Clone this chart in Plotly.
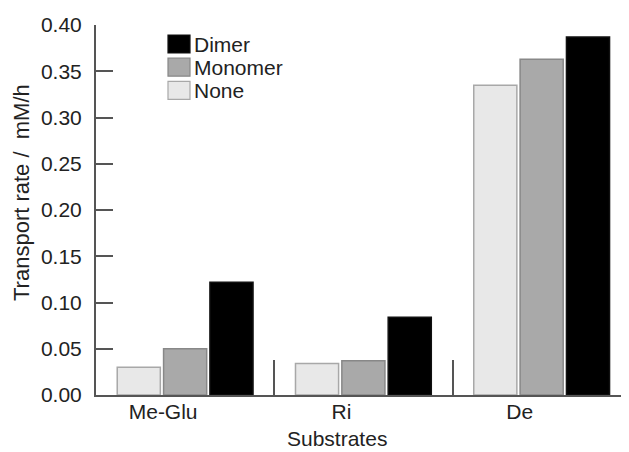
import plotly.graph_objects as go

categories = ["Me-Glu", "Ri", "De"]
series_names = ["None", "Monomer", "Dimer"]
none_vals = [0.030, 0.034, 0.335]
monomer_vals = [0.050, 0.037, 0.363]
dimer_vals = [0.122, 0.084, 0.387]
y_ticks = [0.00, 0.05, 0.10, 0.15, 0.20, 0.25, 0.30, 0.35, 0.40]

fills = {"None": "#e8e8e8", "Monomer": "#a9a9a9", "Dimer": "#000000"}
edges = {"None": "#a8a8a8", "Monomer": "#888888", "Dimer": "#111111"}
values = {"None": none_vals, "Monomer": monomer_vals, "Dimer": dimer_vals}

FONT = "Liberation Sans, Arial, Helvetica, sans-serif"
AX = "#555555"
TXT = "#222222"

# figure geometry (page body has an 8px margin)
W, H = 621, 444
L, R, T, B = 88, 0, 17, 57
PW, PH = W - L - R, H - T - B

def px(x):
    return (x - 8 - L) / PW

def py(y):
    return 1 - (y - 8 - T) / PH

fig = go.Figure()
for name in series_names:
    fig.add_trace(go.Bar(
        x=categories, y=values[name], name=name,
        marker=dict(color=fills[name], line=dict(color=edges[name], width=1.5)),
        showlegend=False,
    ))

# custom legend (order Dimer, Monomer, None); positions in window pixels
legend_order = ["Dimer", "Monomer", "None"]
lx0, ly0, step = 168, 35, 23.2
for i, name in enumerate(legend_order):
    y0 = ly0 + i * step
    fig.add_shape(type="rect", xref="paper", yref="paper",
                  x0=px(lx0), x1=px(lx0 + 22), y0=py(y0 + 18), y1=py(y0),
                  fillcolor=fills[name], line=dict(color=edges[name], width=1.2))
    fig.add_annotation(xref="paper", yref="paper",
                       x=px(lx0 + 24), y=py(y0 + 9),
                       text=name, showarrow=False, xanchor="left", yanchor="middle",
                       font=dict(size=21, color=TXT, family=FONT))

# axis titles
fig.add_annotation(xref="paper", yref="paper", x=px(337), y=py(438),
                   text="Substrates", showarrow=False, xanchor="center", yanchor="middle",
                   font=dict(size=21, color=TXT, family=FONT))
fig.add_annotation(xref="paper", yref="paper", x=px(21), y=py(193),
                   text="Transport rate /  mM/h", showarrow=False, textangle=-90,
                   xanchor="center", yanchor="middle",
                   font=dict(size=22, color=TXT, family=FONT))

fig.update_layout(
    width=W, height=H,
    margin=dict(l=L, r=R, t=T, b=B),
    paper_bgcolor="white", plot_bgcolor="white",
    bargap=0.22, bargroupgap=0.07,
    font=dict(family=FONT, size=21, color=TXT),
)
fig.update_xaxes(
    range=[-0.5, 2.49], showline=True, linecolor=AX, linewidth=2,
    ticks="inside", tickson="boundaries", ticklen=35, tickwidth=1.5, tickcolor=AX,
    ticklabelshift=-22, ticklabelstandoff=-3,
    tickfont=dict(size=21, color=TXT),
    showgrid=False, zeroline=False,
)
fig.update_yaxes(
    range=[0, 0.4], showline=True, linecolor=AX, linewidth=2,
    tickvals=y_ticks, ticktext=[f"{v:.2f}" for v in y_ticks],
    ticks="inside", ticklen=17, tickwidth=1.5, tickcolor=AX,
    ticklabelstandoff=8,
    tickfont=dict(size=21, color=TXT),
    showgrid=False, zeroline=False,
)

fig.write_html("out.html")
